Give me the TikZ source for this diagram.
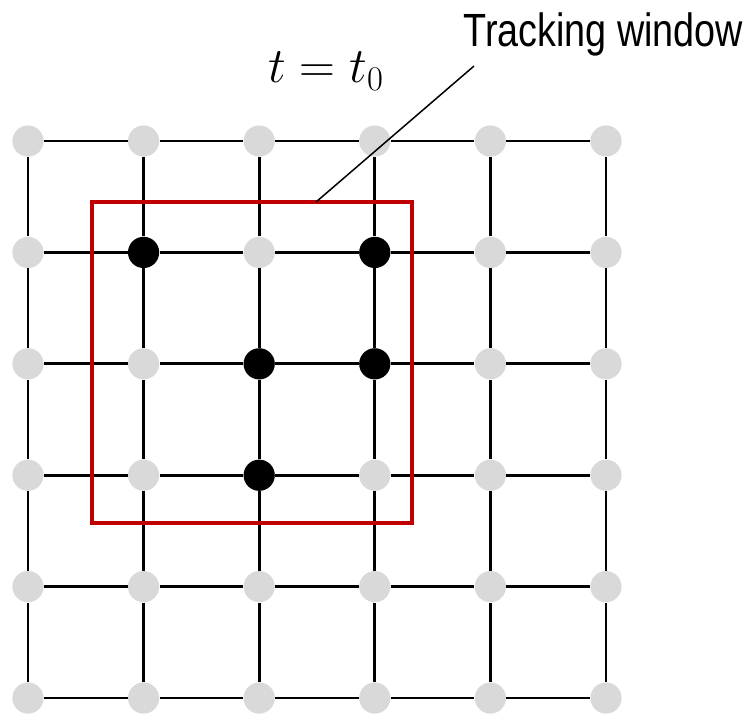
\documentclass[tikz,border=0pt]{standalone}
\usepackage{fontspec}
\newfontfamily\narrowsans[FakeStretch=0.81]{Liberation Sans}
\definecolor{winred}{RGB}{192,0,0}

\begin{document}
\begin{tikzpicture}[x=57.8pt,y=55.7pt,
    site/.style={circle,fill=black!15,minimum size=15.6pt,inner sep=0pt},
    hit/.style={circle,fill=black,minimum size=15.6pt,inner sep=0pt},
    link/.style={line width=1.35pt},
    window/.style={draw=winred,line width=2.1pt}]
    \useasboundingbox (-0.242,-0.144) rectangle (6.289,6.266);

    % Lattice sites
    \foreach \i in {0,...,5} {
        \foreach \j in {0,...,5} {
            \node[site] (n\i\j) at (\i,\j) {};
        }
    }

    % Lattice bonds
    \foreach \i in {0,...,5} {
        \foreach \j [count=\k] in {0,...,4} {
            \draw[link] (n\i\j) -- (n\i\k);
            \draw[link] (n\j\i) -- (n\k\i);
        }
    }

    % Occupied sites
    \foreach \i/\j in {1/4,3/4,2/3,3/3,2/2} {
        \node[hit] (b\i\j) at (n\i\j) {};
    }

    % Tracking window
    \coordinate (wSW) at (0.554,1.574);
    \coordinate (wNE) at (3.319,4.452);
    \draw[window] (wSW) rectangle (wNE);

    % Labels
    \coordinate (wT) at (2.491,4.452);
    \coordinate (tip) at (3.858,5.673);
    \node[anchor=base west,inner sep=0pt,font=\narrowsans\fontsize{23.3}{28}\selectfont] (tw) at (3.763,5.844) {Tracking window};
    \draw[line width=0.75pt] (wT) -- (tip);
    \node[anchor=base west,inner sep=0pt,font=\fontsize{24}{29}\selectfont] (time) at (2.076,5.521) {$t = t_0$};
\end{tikzpicture}
\end{document}
